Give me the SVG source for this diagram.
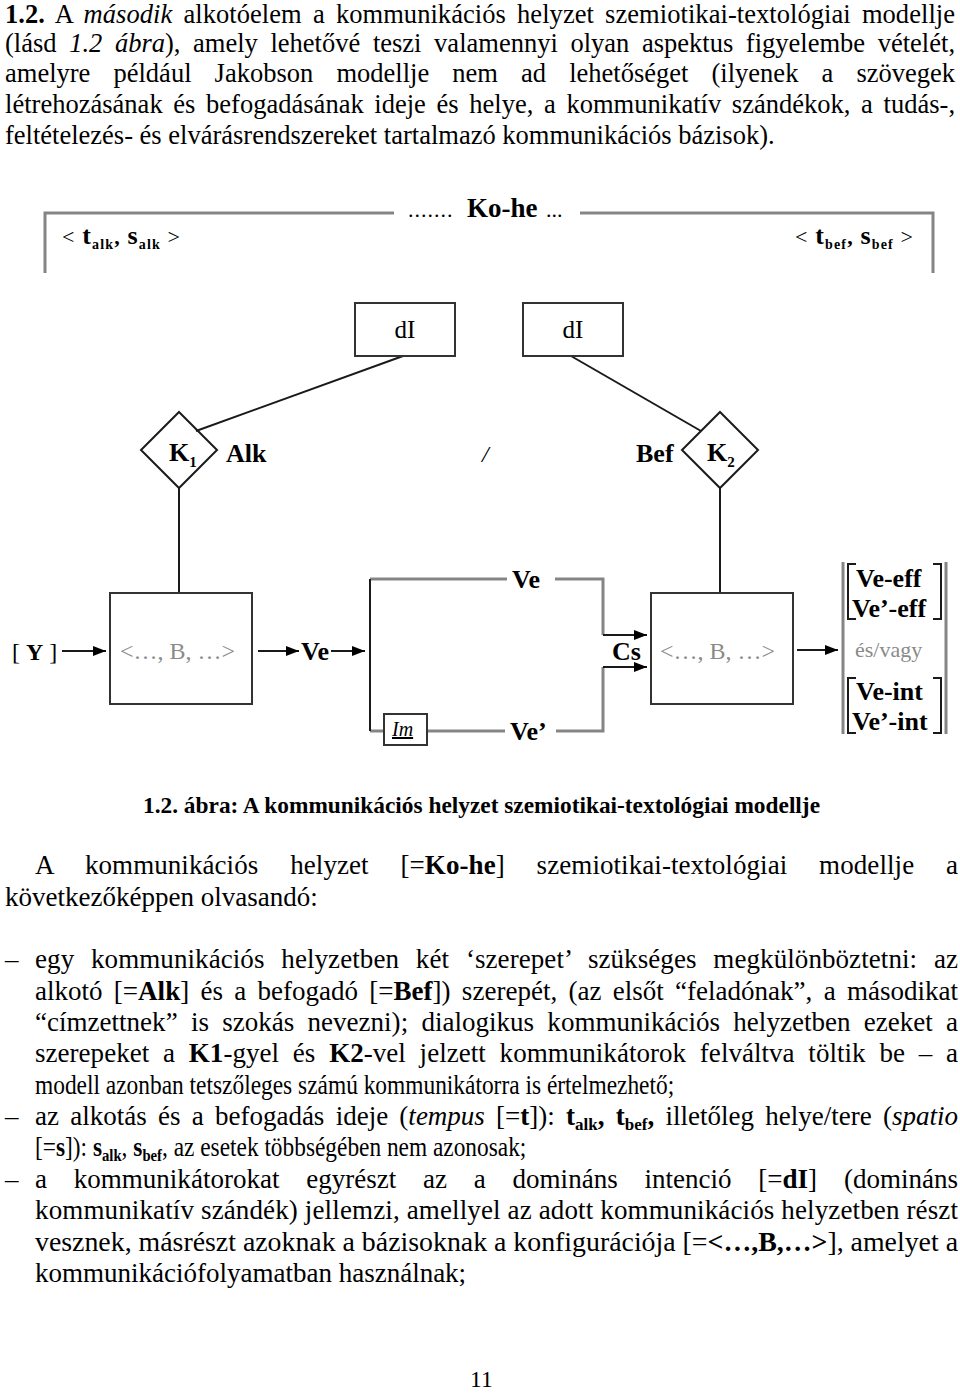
<svg xmlns="http://www.w3.org/2000/svg" width="960" height="1393" viewBox="0 0 960 1393">
<defs>
<style>
text{font-family:"Liberation Serif","Times New Roman",serif;fill:#000}
.p{font-size:26.5px}
.q{font-size:27px}
.b{font-weight:bold}
.i{font-style:italic}
.lbl{font-size:26px;font-weight:bold}
.gray{fill:#8a8a8a}
.g{stroke:#858585;stroke-width:3;fill:none}
.k{stroke:#1a1a1a;stroke-width:2;fill:none}
.box{stroke:#333;stroke-width:2;fill:#fff}
</style>
<marker id="ah" viewBox="0 0 13 10" refX="13" refY="5" markerWidth="13" markerHeight="10" markerUnits="userSpaceOnUse" orient="auto"><path d="M0,0 L13,5 L0,10 z" fill="#000"/></marker>
</defs>
<rect width="960" height="1393" fill="#fff"/>

<g id="intro-text">
<text class="p" x="5" y="23" textLength="950" lengthAdjust="spacing" style="word-spacing:4.5px"><tspan class="b">1.2.</tspan> A <tspan class="i">második</tspan> alkotóelem a kommunikációs helyzet szemiotikai-textológiai modellje</text>
<text class="p" x="5" y="52" textLength="950" lengthAdjust="spacing" style="word-spacing:6px">(lásd <tspan class="i">1.2 ábra</tspan>), amely lehetővé teszi valamennyi olyan aspektus figyelembe vételét,</text>
<text class="p" x="5" y="82" textLength="950" lengthAdjust="spacing" style="word-spacing:16.5px">amelyre például Jakobson modellje nem ad lehetőséget (ilyenek a szövegek</text>
<text class="p" x="5" y="113" textLength="950" lengthAdjust="spacing" style="word-spacing:4px">létrehozásának és befogadásának ideje és helye, a kommunikatív szándékok, a tudás-,</text>
<text class="p" x="5" y="144">feltételezés- és elvárásrendszereket tartalmazó kommunikációs bázisok).</text>
</g>

<g id="frame">
<path class="g" d="M45,273 V213 H394 M580,213 H933 V273"/>
<text x="408" y="217" font-size="22" letter-spacing="1">.......</text>
<text x="467" y="217" font-size="27" class="b">Ko-he</text>
<text x="546" y="217" font-size="22">...</text>
<text x="62" y="244" font-size="22" textLength="118" lengthAdjust="spacing">&lt; <tspan class="b" font-size="26">t</tspan><tspan class="b" font-size="14" dy="5">alk</tspan><tspan class="b" dy="-5">, </tspan><tspan class="b" font-size="26">s</tspan><tspan class="b" font-size="14" dy="5">alk</tspan><tspan dy="-5"> &gt;</tspan></text>
<text x="795" y="244" font-size="22" textLength="118" lengthAdjust="spacing">&lt; <tspan class="b" font-size="26">t</tspan><tspan class="b" font-size="14" dy="5">bef</tspan><tspan class="b" dy="-5">, </tspan><tspan class="b" font-size="26">s</tspan><tspan class="b" font-size="14" dy="5">bef</tspan><tspan dy="-5"> &gt;</tspan></text>
</g>

<g id="connectors">
<path class="k" stroke-width="1.6" d="M403,356 L196,431"/>
<path class="k" stroke-width="1.6" d="M571,356 L701,431"/>
<path class="k" d="M179,488 V593"/>
<path class="k" d="M720,488 V593"/>
<path class="k" d="M62,651 H106" marker-end="url(#ah)"/>
<path class="k" d="M258,651 H299" marker-end="url(#ah)"/>
<path class="k" d="M331,651 H365" marker-end="url(#ah)"/>
<path class="g" d="M370,579 H507 M555,579 H603 V635 M603,667 V731 H556 M505,731 H427 M384,731 H370"/>
<path class="k" d="M370,579 V731"/>
<path class="k" d="M603,635 H647" marker-end="url(#ah)"/>
<path class="k" d="M603,667 H647" marker-end="url(#ah)"/>
<path class="k" d="M797,650 H838" marker-end="url(#ah)"/>
</g>

<g id="node-dI-alk">
<rect class="box" x="355" y="303" width="100" height="53"/>
<text x="405" y="338" font-size="25" text-anchor="middle">dI</text>
</g>
<g id="node-dI-bef">
<rect class="box" x="523" y="303" width="100" height="53"/>
<text x="573" y="338" font-size="25" text-anchor="middle">dI</text>
</g>

<g id="node-K1">
<polygon class="k" points="179,412 217,450 179,488 141,450"/>
<text x="169" y="461" class="lbl">K<tspan font-size="15" dy="6">1</tspan></text>
<text x="226" y="462" class="lbl" font-size="27">Alk</text>
</g>
<text x="482" y="462" font-size="24" class="i">/</text>
<g id="node-K2">
<polygon class="k" points="720,412 758,450 720,488 682,450"/>
<text x="707" y="461" class="lbl">K<tspan font-size="15" dy="6">2</tspan></text>
<text x="636" y="462" class="lbl" font-size="27">Bef</text>
</g>

<g id="node-Y">
<text x="12" y="660" font-size="24">[ <tspan class="b">Y</tspan> ]</text>
</g>

<g id="node-B-alk">
<rect class="box" x="110" y="593" width="142" height="111"/>
<text x="120" y="659" font-size="24" class="gray">&lt;…, B, …&gt;</text>
</g>

<g id="node-Ve">
<text x="301" y="660" class="lbl">Ve</text>
</g>

<g id="labels-channel">
<text x="512" y="588" class="lbl">Ve</text>
<text x="510" y="740" class="lbl">Ve’</text>
<text x="612" y="660" class="lbl">Cs</text>
</g>

<g id="node-Im">
<rect class="box" x="384" y="714" width="43" height="31"/>
<text x="392" y="736" font-size="20" class="i" text-decoration="underline">Im</text>
</g>

<g id="node-B-bef">
<rect class="box" x="651" y="593" width="142" height="111"/>
<text x="660" y="659" font-size="24" class="gray">&lt;…, B, …&gt;</text>
</g>

<g id="node-result">
<path class="g" d="M843,562 V734 M946,562 V734"/>
<path class="k" stroke-width="1.8" d="M856,564 H848 V619 H856 M933,564 H941 V619 H933 M856,678 H848 V733 H856 M933,678 H941 V733 H933"/>
<text x="856" y="587" class="lbl">Ve-eff</text>
<text x="852" y="617" class="lbl">Ve’-eff</text>
<text x="855" y="657" font-size="22" class="gray">és/vagy</text>
<text x="856" y="700" class="lbl">Ve-int</text>
<text x="852" y="730" class="lbl">Ve’-int</text>
</g>

<g id="body-text">
<text x="143" y="813" font-size="23.3" class="b" textLength="677" lengthAdjust="spacingAndGlyphs">1.2. ábra: A kommunikációs helyzet szemiotikai-textológiai modellje</text>
<text class="q" x="35" y="874" textLength="923" lengthAdjust="spacing" style="word-spacing:25px">A kommunikációs helyzet [=<tspan class="b">Ko-he</tspan>] szemiotikai-textológiai modellje a</text>
<text class="q" x="5" y="906">következőképpen olvasandó:</text>

<text class="q" x="5" y="968">–</text>
<text class="q" x="35" y="968" textLength="923" lengthAdjust="spacing" style="word-spacing:10px">egy kommunikációs helyzetben két ‘szerepet’ szükséges megkülönböztetni: az</text>
<text class="q" x="35" y="1000" textLength="923" lengthAdjust="spacing" style="word-spacing:4.5px">alkotó [=<tspan class="b">Alk</tspan>] és a befogadó [=<tspan class="b">Bef</tspan>]) szerepét, (az elsőt “feladónak”, a másodikat</text>
<text class="q" x="35" y="1031" textLength="923" lengthAdjust="spacing" style="word-spacing:6.5px">“címzettnek” is szokás nevezni); dialogikus kommunikációs helyzetben ezeket a</text>
<text class="q" x="35" y="1062" textLength="923" lengthAdjust="spacing" style="word-spacing:7px">szerepeket a <tspan class="b">K1</tspan>-gyel és <tspan class="b">K2</tspan>-vel jelzett kommunikátorok felváltva töltik be – a</text>
<text class="q" transform="translate(35,1094) scale(0.867,1)">modell azonban tetszőleges számú kommunikátorra is értelmezhető;</text>

<text class="q" x="5" y="1125">–</text>
<text class="q" x="35" y="1125" textLength="923" lengthAdjust="spacing" style="word-spacing:4.5px">az alkotás és a befogadás ideje (<tspan class="i">tempus</tspan> [=<tspan class="b">t</tspan>]): <tspan class="b">t</tspan><tspan class="b" font-size="17" dy="5">alk</tspan><tspan class="b" dy="-5">, t</tspan><tspan class="b" font-size="17" dy="5">bef</tspan><tspan class="b" dy="-5">,</tspan> illetőleg helye/tere (<tspan class="i">spatio</tspan></text>
<text class="q" transform="translate(35,1156) scale(0.865,1)">[=<tspan class="b">s</tspan>]): <tspan class="b">s</tspan><tspan class="b" font-size="17" dy="5">alk</tspan><tspan dy="-5">, </tspan><tspan class="b">s</tspan><tspan class="b" font-size="17" dy="5">bef</tspan><tspan dy="-5">, az esetek többségében nem azonosak;</tspan></text>

<text class="q" x="5" y="1188">–</text>
<text class="q" x="35" y="1188" textLength="923" lengthAdjust="spacing" style="word-spacing:20px">a kommunikátorokat egyrészt az a domináns intenció [=<tspan class="b">dI</tspan>] (domináns</text>
<text class="q" x="35" y="1219" textLength="923" lengthAdjust="spacing">kommunikatív szándék) jellemzi, amellyel az adott kommunikációs helyzetben részt</text>
<text class="q" x="35" y="1251" textLength="923" lengthAdjust="spacingAndGlyphs">vesznek, másrészt azoknak a bázisoknak a konfigurációja [=<tspan class="b">&lt;…,B,…&gt;</tspan>], amelyet a</text>
<text class="q" x="35" y="1282">kommunikációfolyamatban használnak;</text>

<text x="470" y="1387" font-size="23.5">11</text>
</g>
</svg>
